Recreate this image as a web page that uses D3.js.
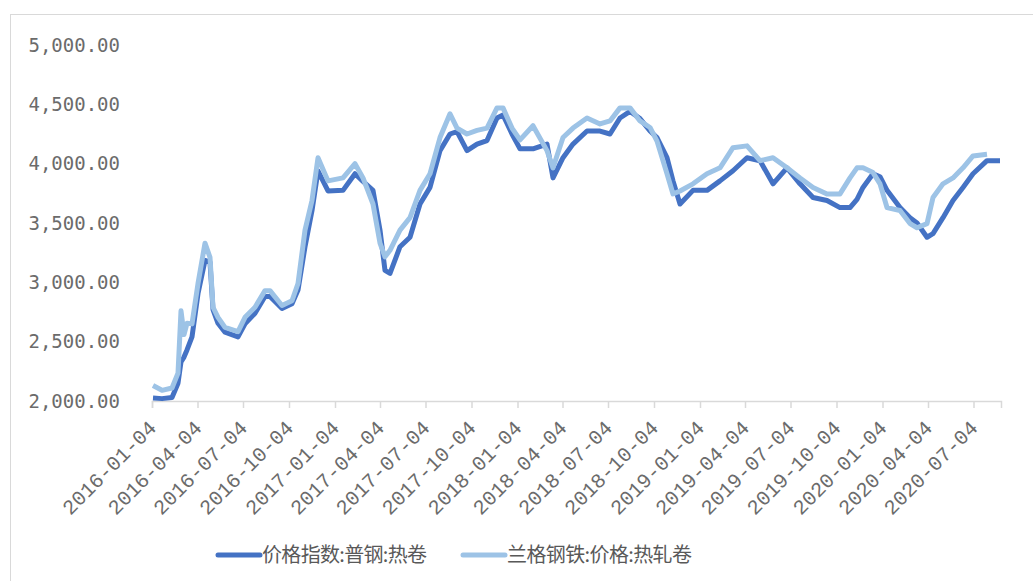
<!DOCTYPE html>
<html>
<head>
<meta charset="utf-8">
<script src="https://cdn.jsdelivr.net/npm/d3@7"></script>
<style>
  body { margin: 0; background: #fff; }
  svg { display: block; }
</style>
</head>
<body>
<div id="chart"></div>
<script>
// Chart data
var dates = [
  "2016-01-06","2016-01-24","2016-02-13","2016-02-25","2016-03-02","2016-03-08","2016-03-14","2016-03-24",
  "2016-04-05","2016-04-19","2016-04-29","2016-05-05","2016-05-15","2016-05-29","2016-06-24","2016-07-08",
  "2016-07-28","2016-08-17","2016-08-27","2016-09-20","2016-10-10","2016-10-22","2016-11-05","2016-11-19",
  "2016-12-01","2016-12-21","2017-01-20","2017-02-13","2017-03-01","2017-03-21","2017-04-04","2017-04-14",
  "2017-04-24","2017-05-14","2017-06-03","2017-06-23","2017-07-13","2017-08-02","2017-08-22","2017-09-05",
  "2017-09-25","2017-10-15","2017-11-04","2017-11-24","2017-12-06","2017-12-24","2018-01-09","2018-02-04",
  "2018-03-04","2018-03-16","2018-04-05","2018-04-25","2018-05-23","2018-06-18","2018-07-08","2018-07-28",
  "2018-08-17","2018-09-06","2018-09-26","2018-10-10","2018-10-30","2018-11-11","2018-11-25","2018-12-21",
  "2019-01-18","2019-02-13","2019-03-11","2019-04-08","2019-05-04","2019-05-30","2019-06-27","2019-07-23",
  "2019-08-18","2019-09-15","2019-10-11","2019-10-31","2019-11-14","2019-11-26","2019-12-16","2019-12-30",
  "2020-01-13","2020-02-08","2020-02-28","2020-03-13","2020-04-02","2020-04-14","2020-05-04","2020-05-24",
  "2020-06-13","2020-07-03","2020-07-31","2020-08-26"
];

// 价格指数:普钢:热卷
var indexHrc = [
  2025,2020,2030,2150,2330,2370,2430,2540,
  2905,3185,3170,2770,2655,2580,2540,2650,
  2740,2880,2880,2780,2820,2935,3300,3605,
  3940,3770,3775,3915,3850,3775,3440,3100,
  3075,3300,3380,3660,3800,4110,4250,4270,
  4110,4165,4195,4385,4410,4250,4125,4125,
  4165,3880,4050,4165,4275,4275,4250,4385,
  4440,4380,4275,4220,4050,3855,3660,3775,
  3775,3855,3940,4050,4025,3830,3965,3830,
  3715,3690,3630,3630,3700,3800,3915,3890,
  3775,3630,3545,3500,3380,3410,3545,3690,
  3800,3915,4025,4025
];

// 兰格钢铁:价格:热轧卷
var langeHrc = [
  2130,2090,2110,2235,2760,2560,2655,2650,
  2990,3330,3210,2790,2705,2620,2585,2705,
  2790,2930,2930,2805,2845,2990,3440,3690,
  4050,3855,3880,4000,3880,3660,3330,3215,
  3270,3440,3545,3775,3915,4220,4420,4300,
  4250,4280,4300,4470,4470,4300,4200,4320,
  4110,3965,4220,4300,4385,4335,4360,4470,
  4470,4360,4305,4190,3915,3745,3770,3830,
  3915,3965,4135,4150,4025,4050,3965,3880,
  3800,3745,3745,3880,3965,3965,3925,3830,
  3630,3605,3495,3460,3495,3715,3830,3880,
  3965,4065,4080,null
];

var yTicks = [2000, 2500, 3000, 3500, 4000, 4500, 5000];
var xTickLabels = [
  "2016-01-04","2016-04-04","2016-07-04","2016-10-04","2017-01-04","2017-04-04","2017-07-04",
  "2017-10-04","2018-01-04","2018-04-04","2018-07-04","2018-10-04","2019-01-04","2019-04-04",
  "2019-07-04","2019-10-04","2020-01-04","2020-04-04","2020-07-04"
];
var seriesNames = ["价格指数:普钢:热卷", "兰格钢铁:价格:热轧卷"];
var seriesColors = ["#4472c4", "#9dc3e6"];

var width = 1033;
var height = 581;
var parseDate = d3.timeParse("%Y-%m-%d");

var svg = d3.select("#chart").append("svg")
  .attr("width", width)
  .attr("height", height);

// chart border
svg.append("rect")
  .attr("x", 10.5).attr("y", 14.5)
  .attr("width", 1040).attr("height", 600)
  .attr("fill", "none")
  .attr("stroke", "#d9d9d9");

var xScale = d3.scaleTime()
  .domain([parseDate("2016-01-04"), parseDate("2020-08-28")])
  .range([152, 1001]);
var yScale = d3.scaleLinear()
  .domain([2000, 5000])
  .range([401, 45]);

// x axis
var xAxis = d3.axisBottom(xScale)
  .tickValues(xTickLabels.map(parseDate))
  .tickSize(7)
  .tickFormat(d3.timeFormat("%Y-%m-%d"));

var xg = svg.append("g")
  .attr("transform", "translate(0," + yScale(2000) + ")")
  .call(xAxis);
xg.select(".domain").attr("stroke", "#d9d9d9").attr("stroke-width", 1.5);
xg.selectAll(".tick line").attr("stroke", "#d9d9d9").attr("stroke-width", 1.5);
xg.selectAll(".tick text")
  .attr("font-family", "Liberation Mono, monospace")
  .attr("font-size", 20.5)
  .attr("fill", "#6b6b6b")
  .attr("text-anchor", "end")
  .attr("dy", 0)
  .attr("y", 0)
  .attr("transform", "translate(5,28) rotate(-45)");

// y axis labels only
var yAxis = d3.axisLeft(yScale)
  .tickValues(yTicks)
  .tickSize(0)
  .tickPadding(0)
  .tickFormat(d3.format(",.2f"));
var yg = svg.append("g")
  .attr("transform", "translate(120,0)")
  .call(yAxis);
yg.select(".domain").remove();
yg.selectAll(".tick text")
  .attr("font-family", "DejaVu Sans Mono, monospace")
  .attr("font-size", 19)
  .attr("fill", "#6b6b6b");

// lines
var seriesValues = [indexHrc, langeHrc];
seriesValues.forEach(function(vals, i) {
  var line = d3.line()
    .defined(function(d) { return d !== null; })
    .x(function(d, j) { return xScale(parseDate(dates[j])); })
    .y(function(d) { return yScale(d); });
  svg.append("path")
    .datum(vals)
    .attr("fill", "none")
    .attr("stroke", seriesColors[i])
    .attr("stroke-width", 5)
    .attr("stroke-linejoin", "round")
    .attr("d", line);
});

// legend
var legendX = [218, 463];
var legendLen = [165, 185];
seriesNames.forEach(function(name, i) {
  var g = svg.append("g").attr("transform", "translate(" + legendX[i] + ",555)");
  g.append("line")
    .attr("x1", 0).attr("x2", 42)
    .attr("y1", 0).attr("y2", 0)
    .attr("stroke", seriesColors[i])
    .attr("stroke-width", 5)
    .attr("stroke-linecap", "round");
  g.append("text")
    .attr("x", 44)
    .attr("y", 7)
    .attr("font-family", "Noto Sans CJK SC, sans-serif")
    .attr("font-size", 20)
    .attr("fill", "#595959")
    .attr("textLength", legendLen[i])
    .attr("lengthAdjust", "spacing")
    .text(name);
});
</script>
</body>
</html>
